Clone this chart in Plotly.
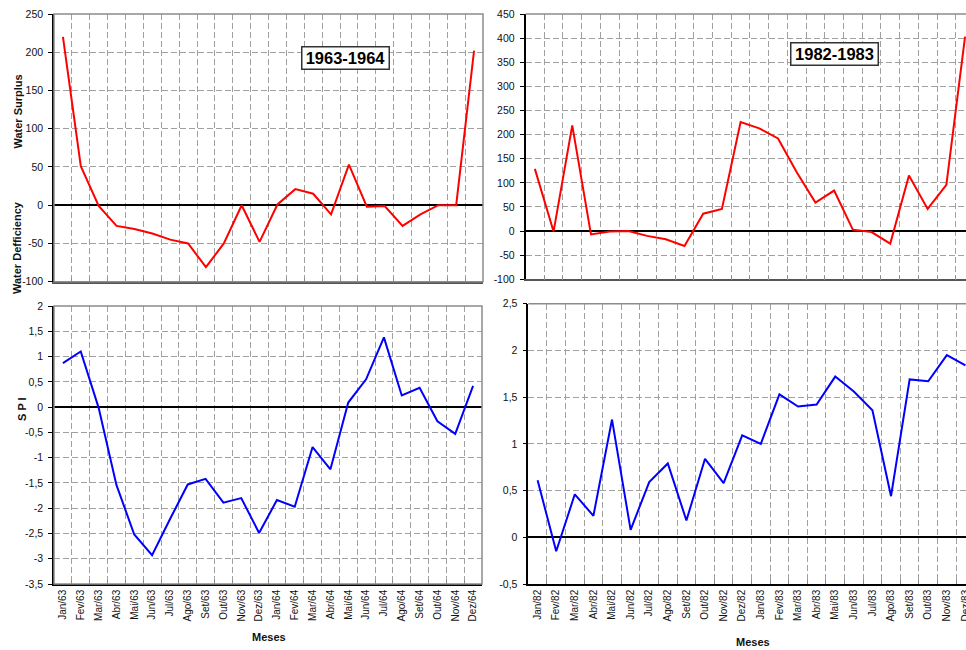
import plotly.graph_objects as go

# ---- categories (months) ----
months_6364 = ["Jan/63", "Fev/63", "Mar/63", "Abr/63", "Mai/63", "Jun/63",
               "Jul/63", "Ago/63", "Set/63", "Out/63", "Nov/63", "Dez/63",
               "Jan/64", "Fev/64", "Mar/64", "Abr/64", "Mai/64", "Jun/64",
               "Jul/64", "Ago/64", "Set/64", "Out/64", "Nov/64", "Dez/64"]
months_8283 = ["Jan/82", "Fev/82", "Mar/82", "Abr/82", "Mai/82", "Jun/82",
               "Jul/82", "Ago/82", "Set/82", "Out/82", "Nov/82", "Dez/82",
               "Jan/83", "Fev/83", "Mar/83", "Abr/83", "Mai/83", "Jun/83",
               "Jul/83", "Ago/83", "Set/83", "Out/83", "Nov/83", "Dez/83"]

# ---- water balance (surplus > 0, deficiency < 0) ----
water_6364 = [220, 51, -1, -27, -31, -37, -45, -50, -81, -50, 0, -48,
              1, 21, 15, -12, 53, -2, -1, -27, -12, 0, 0, 202]
water_8283 = [129, -1, 219, -7, -1, 0, -10, -17, -31, 36, 46, 226,
              213, 192, 122, 59, 84, 3, -2, -26, 115, 46, 96, 403]

# ---- SPI ----
spi_6364 = [0.87, 1.10, -0.01, -1.54, -2.52, -2.93, -2.22, -1.53, -1.42, -1.89, -1.80, -2.49,
            -1.84, -1.97, -0.79, -1.23, 0.09, 0.55, 1.38, 0.23, 0.38, -0.28, -0.53, 0.42]
spi_8283 = [0.61, -0.15, 0.46, 0.23, 1.26, 0.08, 0.59, 0.79, 0.18, 0.84, 0.58, 1.09,
            1.00, 1.53, 1.40, 1.42, 1.72, 1.56, 1.36, 0.44, 1.69, 1.67, 1.95, 1.84]

# ---- y tick values and labels (decimal comma, plain hyphen) ----
ticks_water_6364 = [-100, -50, 0, 50, 100, 150, 200, 250]
labels_water_6364 = ["-100", "-50", "0", "50", "100", "150", "200", "250"]
ticks_water_8283 = [-100, -50, 0, 50, 100, 150, 200, 250, 300, 350, 400, 450]
labels_water_8283 = ["-100", "-50", "0", "50", "100", "150", "200", "250",
                     "300", "350", "400", "450"]
ticks_spi_6364 = [-3.5, -3, -2.5, -2, -1.5, -1, -0.5, 0, 0.5, 1, 1.5, 2]
labels_spi_6364 = ["-3,5", "-3", "-2,5", "-2", "-1,5", "-1", "-0,5", "0",
                   "0,5", "1", "1,5", "2"]
ticks_spi_8283 = [-0.5, 0, 0.5, 1, 1.5, 2, 2.5]
labels_spi_8283 = ["-0,5", "0", "0,5", "1", "1,5", "2", "2,5"]

W, H = 966, 650
FONT = "Liberation Sans, Arial, sans-serif"
GRID = "#a0a0a0"
FRAME = "#8c8c8c"


def px(x):
    return x / W


def py(y):
    return 1 - y / H


fig = go.Figure()

fig.add_trace(go.Scatter(x=months_6364, y=water_6364, mode="lines",
                         line=dict(color="#ff0000", width=2), xaxis="x", yaxis="y"))
fig.add_trace(go.Scatter(x=months_8283, y=water_8283, mode="lines",
                         line=dict(color="#ff0000", width=2), xaxis="x2", yaxis="y2"))
fig.add_trace(go.Scatter(x=months_6364, y=spi_6364, mode="lines",
                         line=dict(color="#0000ff", width=2), xaxis="x3", yaxis="y3"))
fig.add_trace(go.Scatter(x=months_8283, y=spi_8283, mode="lines",
                         line=dict(color="#0000ff", width=2), xaxis="x4", yaxis="y4"))


def xaxis(domain, anchor, rng, show_labels, line_color):
    return dict(domain=domain, anchor=anchor, type="category", range=rng,
                tickson="boundaries", showgrid=True, gridcolor=GRID, gridwidth=1,
                griddash="6px,3px", ticks="inside", ticklen=4, tickcolor=FRAME,
                showline=True, linecolor=line_color, linewidth=1.5,
                showticklabels=show_labels, tickangle=-90,
                tickfont=dict(family=FONT, size=10, color="#111"),
                zeroline=False, fixedrange=True, automargin=False)


def yaxis(domain, anchor, rng, vals, texts):
    return dict(domain=domain, anchor=anchor, range=rng, tickmode="array",
                tickvals=vals, ticktext=texts, showgrid=True, gridcolor=GRID,
                gridwidth=1, griddash="6px,3px", ticks="outside", ticklen=4,
                tickcolor="#000", showline=True, linecolor="#000", linewidth=1.5,
                zeroline=True, zerolinecolor="#000", zerolinewidth=1.5,
                tickfont=dict(family=FONT, size=10.5, color="#111"),
                ticklabelstandoff=3, fixedrange=True, automargin=False)


dom_x_left = [px(54), px(483)]
dom_x_right = [px(525.5), 1.0]

fig.update_layout(
    width=W, height=H, autosize=False,
    margin=dict(l=0, r=0, t=0, b=0, pad=0, autoexpand=False),
    paper_bgcolor="white", plot_bgcolor="white", showlegend=False,
    font=dict(family=FONT, color="#111"),
    xaxis=xaxis(dom_x_left, "y", [-0.5, 23.5], False, "#555"),
    yaxis=yaxis([py(281.7), py(14)], "x", [-100, 250], ticks_water_6364, labels_water_6364),
    xaxis2=xaxis(dom_x_right, "y2", [-0.5, 23.05], False, "#555"),
    yaxis2=yaxis([py(279.3), py(14)], "x2", [-100, 450], ticks_water_8283, labels_water_8283),
    xaxis3=xaxis([px(54), px(482)], "y3", [-0.5, 23.5], True, "#000"),
    yaxis3=yaxis([py(584), py(306)], "x3", [-3.5, 2], ticks_spi_6364, labels_spi_6364),
    xaxis4=xaxis([px(528.3), 1.0], "y4", [-0.5, 23.03], True, "#000"),
    yaxis4=yaxis([py(584), py(303.7)], "x4", [-0.5, 2.5], ticks_spi_8283, labels_spi_8283),
)


# plot-area frames (paper coordinates)
def frame_rect(x0, x1, y0, y1):
    return dict(type="rect", xref="paper", yref="paper", x0=px(x0), x1=px(x1),
                y0=py(y1), y1=py(y0), line=dict(color=FRAME, width=1.5), layer="above")


def frame_line(x0, x1, y):
    return dict(type="line", xref="paper", yref="paper", x0=px(x0), x1=px(x1),
                y0=py(y), y1=py(y), line=dict(color=FRAME, width=1.5), layer="above")


fig.update_layout(shapes=[
    frame_rect(54, 483, 14, 281.7),
    frame_rect(54, 482, 306, 584),
    frame_line(525.5, W, 14),
    frame_line(528.3, W, 303.7),
])

bold = dict(family=FONT, size=11, color="#111", weight="bold")
annotations = [
    dict(text="Water Surplus", x=px(17), y=py(111.5), textangle=-90),
    dict(text="Water Defficiency", x=px(17), y=py(248), textangle=-90),
    dict(text="S P I", x=px(22), y=py(409), textangle=-90),
    dict(text="Meses", x=px(268.7), y=py(637.3)),
    dict(text="Meses", x=px(753.3), y=py(641.7)),
]
for a in annotations:
    fig.add_annotation(xref="paper", yref="paper", showarrow=False,
                       xanchor="center", yanchor="middle", font=bold, **a)

# period labels
for label, cx, cy in (("1963-1964", 345, 58), ("1982-1983", 834.5, 54)):
    fig.add_annotation(text=label, xref="paper", yref="paper", x=px(cx), y=py(cy),
                       xanchor="center", yanchor="middle", showarrow=False,
                       font=dict(family=FONT, size=16.5, color="#000", weight="bold"),
                       bgcolor="white", bordercolor="#333", borderwidth=1.5,
                       borderpad=2, width=82, height=17)

fig.write_html("out.html")
